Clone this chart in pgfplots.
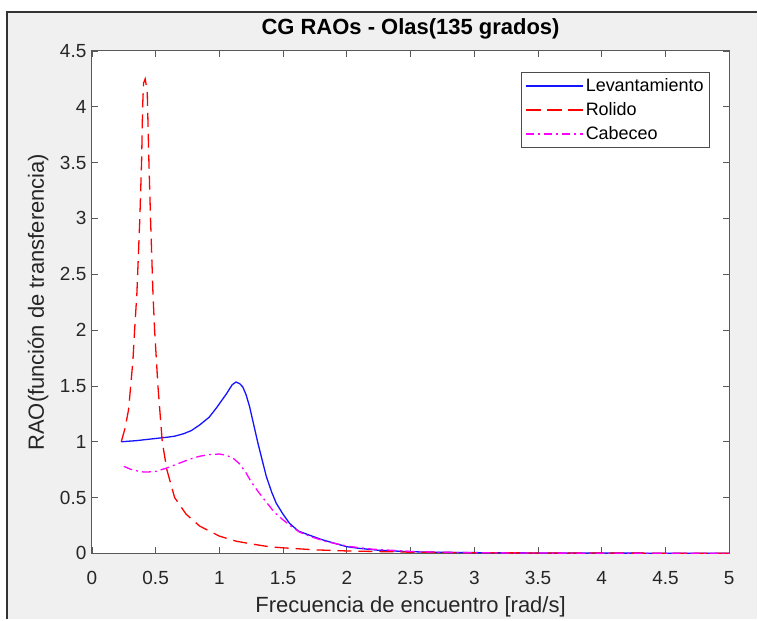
\documentclass[border=0pt]{standalone}
\usepackage{fontspec}
\setmainfont{Liberation Sans}
\usepackage{pgfplots}
\pgfplotsset{compat=1.18}
\definecolor{figbg}{RGB}{240,240,240}
\definecolor{axgray}{RGB}{38,38,38}
\definecolor{mblue}{RGB}{20,20,255}
\definecolor{mred}{RGB}{255,0,0}
\definecolor{mmag}{RGB}{255,0,255}

\begin{document}
\begin{tikzpicture}[x=1pt,y=1pt]
\fill[white] (0,0) rectangle (758,620);
\fill[figbg] (7,0) rectangle (758,608);
\draw[black!80, line width=1.6pt] (7,0) -- (7,608) -- (758,608);
\useasboundingbox (0,0) rectangle (758,620);
\begin{axis}[
    at={(92pt,66pt)}, anchor=south west,
    scale only axis, width=638pt, height=503pt,
    xmin=0, xmax=5, ymin=0, ymax=4.5,
    xtick={0,0.5,1,1.5,2,2.5,3,3.5,4,4.5,5},
    ytick={0,0.5,1,1.5,2,2.5,3,3.5,4,4.5},
    /pgf/number format/assume math mode=true,
    axis background/.style={fill=white},
    axis line style={black!65, line width=0.9pt},
    tick align=inside, major tick length=6pt,
    tick style={black!65, line width=0.8pt},
    ticklabel style={font=\fontsize{19}{23}\selectfont, text=axgray},
    xticklabel style={anchor=base, yshift=-31pt},
    yticklabel style={xshift=-2pt},
    title={\bfseries CG RAOs - Olas(135 grados)},
    title style={at={(axis description cs:0.5,1)}, anchor=base, yshift=10pt,
                 font=\fontsize{22}{26}\selectfont, text=black},
    xlabel={Frecuencia de encuentro [rad/s]},
    ylabel={RAO(función de transferencia)},
    every axis x label/.style={at={(axis description cs:0.5,0)}, anchor=base,
                 yshift=-59pt, font=\fontsize{22}{26}\selectfont, text=axgray},
    every axis y label/.style={at={(axis description cs:-0.0846,0.5)}, rotate=90,
                 anchor=center, font=\fontsize{22}{26}\selectfont, text=axgray},
    legend style={at={(0.970,0.958)}, anchor=north east, draw=black!70,
                  line width=0.8pt, fill=white, font=\fontsize{18}{21}\selectfont,
                  inner xsep=4pt, inner ysep=4pt, row sep=5.5pt,
                  cells={anchor=west}},
]
\addplot[draw=mblue, line width=1.3pt,
  legend image code/.code={\draw[draw=mblue, line width=1.6pt, solid] (0pt,0pt) -- (57pt,0pt);}]
  coordinates {
(0.23,1.00) (0.35,1.01) (0.505,1.03) (0.6,1.042) (0.65,1.05) (0.72,1.072)
(0.78,1.10) (0.845,1.15) (0.92,1.22) (0.975,1.30) (1.056,1.43) (1.10,1.51)
(1.13,1.535) (1.16,1.52) (1.184,1.49) (1.21,1.42) (1.237,1.315) (1.27,1.15)
(1.302,0.99) (1.335,0.84) (1.368,0.69) (1.41,0.55) (1.446,0.45) (1.5,0.35)
(1.55,0.27) (1.62,0.20) (1.707,0.163) (1.8,0.125) (1.89,0.095) (2.0,0.06)
(2.1,0.045) (2.25,0.028) (2.5,0.015) (2.75,0.01) (3.0,0.007) (3.5,0.004)
(4.0,0.003) (4.5,0.002) (5.0,0.002)};
\addlegendentry{Levantamiento}
\addplot[draw=mred, line width=1.3pt, dash pattern=on 14pt off 7pt,
  legend image code/.code={\draw[draw=mred, line width=1.6pt, dash pattern=on 15pt off 6pt] (0pt,0pt) -- (57pt,0pt);}]
  coordinates {
(0.23,1.00) (0.26,1.12) (0.288,1.29) (0.322,1.73) (0.335,2.0) (0.353,2.33)
(0.376,3.0) (0.39,3.52) (0.398,4.0) (0.405,4.21) (0.418,4.25) (0.434,4.14)
(0.447,3.52) (0.46,3.0) (0.479,2.33) (0.492,2.0) (0.518,1.5) (0.552,1.0)
(0.588,0.75) (0.649,0.5) (0.74,0.35) (0.845,0.245) (1.0,0.155) (1.13,0.11)
(1.25,0.085) (1.39,0.06) (1.5,0.05) (1.75,0.032) (2.0,0.022) (2.5,0.011)
(3.0,0.006) (3.5,0.004) (4.0,0.003) (4.5,0.002) (5.0,0.002)};
\addlegendentry{Rolido}
\addplot[draw=mmag, line width=1.3pt, dash pattern=on 9pt off 4pt on 2pt off 4pt,
  legend image code/.code={\draw[draw=mmag, line width=1.6pt, dash pattern=on 8pt off 4pt on 2pt off 4pt] (0pt,0pt) -- (57pt,0pt);}]
  coordinates {
(0.25,0.78) (0.30,0.755) (0.35,0.74) (0.40,0.73) (0.45,0.73) (0.505,0.735)
(0.6,0.77) (0.69,0.81) (0.77,0.845) (0.845,0.87) (0.92,0.885) (1.0,0.89)
(1.05,0.88) (1.106,0.855) (1.16,0.80) (1.21,0.72) (1.25,0.64) (1.30,0.56)
(1.368,0.46) (1.43,0.37) (1.5,0.30) (1.56,0.245) (1.63,0.19) (1.73,0.145)
(1.84,0.105) (2.02,0.062) (2.2,0.038) (2.5,0.018) (2.75,0.01) (3.0,0.006)
(3.5,0.003) (4.0,0.002) (4.5,0.001) (5.0,0.001)};
\addlegendentry{Cabeceo}
\end{axis}
\end{tikzpicture}
\end{document}
